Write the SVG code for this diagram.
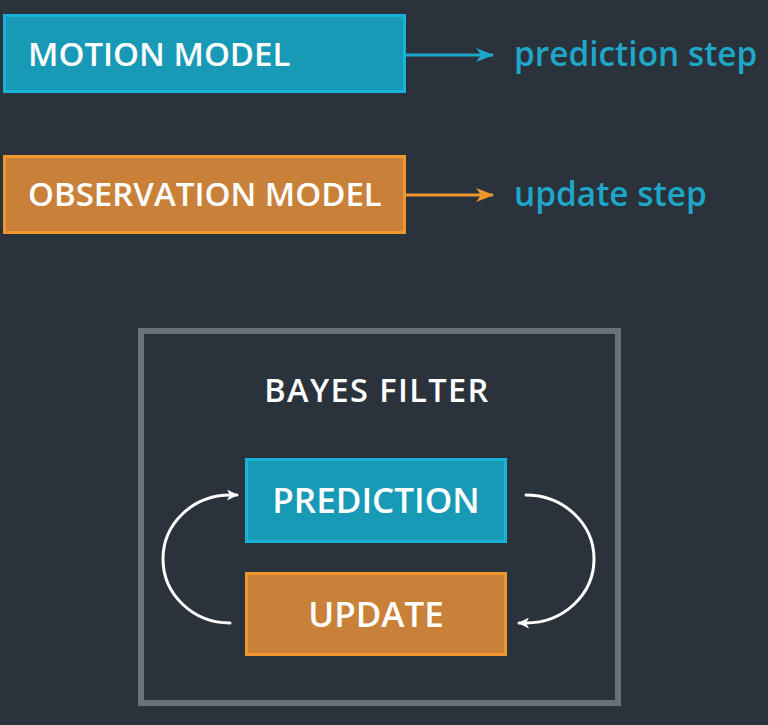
<svg xmlns="http://www.w3.org/2000/svg" width="768" height="725" viewBox="0 0 768 725">
<defs>
<style>
.lbl{font-family:"Open Sans","Liberation Sans",sans-serif;font-weight:600;fill:#ffffff}
.step{font-family:"Open Sans","Liberation Sans",sans-serif;font-weight:600;fill:#1ea7c8}
.blue{fill:#1899b6;stroke:#17b3d6;stroke-width:3}
.orange{fill:#c9813a;stroke:#f0962e;stroke-width:3}
.loop{fill:none;stroke:#ffffff;stroke-width:3;stroke-linecap:round}
</style>
<marker id="ahB" viewBox="0 0 18 14" refX="17" refY="7" markerWidth="18" markerHeight="14" markerUnits="userSpaceOnUse" orient="auto">
<path d="M0,0 L18,7 L0,14 L5,7 Z" fill="#1ea7c8"/>
</marker>
<marker id="ahO" viewBox="0 0 18 14" refX="17" refY="7" markerWidth="18" markerHeight="14" markerUnits="userSpaceOnUse" orient="auto">
<path d="M0,0 L18,7 L0,14 L5,7 Z" fill="#f0962e"/>
</marker>
<marker id="ahW" viewBox="0 0 11 11" refX="10" refY="5.5" markerWidth="11" markerHeight="11" markerUnits="userSpaceOnUse" orient="auto">
<path d="M0,0 L11,5.5 L0,11 L3,5.5 Z" fill="#ffffff"/>
</marker>
</defs>
<rect width="768" height="725" fill="#2a323b"/>
<g id="motion-model">
<rect class="blue" x="4.5" y="15.5" width="400" height="76"/>
<text class="lbl" x="28" y="66" font-size="33">MOTION MODEL</text>
</g>
<g id="prediction-step">
<text class="step" x="514" y="66" font-size="33.4">prediction step</text>
</g>
<g id="observation-model">
<rect class="orange" x="4.5" y="156.5" width="400" height="76"/>
<text class="lbl" x="28" y="206" font-size="33">OBSERVATION MODEL</text>
</g>
<g id="update-step">
<text class="step" x="514" y="206" font-size="33.4">update step</text>
</g>
<g id="bayes-filter">
<rect x="141" y="331" width="477" height="372" fill="none" stroke="#6a7279" stroke-width="6"/>
<text class="lbl" x="377" y="402" font-size="32.5" letter-spacing="1.4" text-anchor="middle">BAYES FILTER</text>
</g>
<g id="prediction">
<rect class="blue" x="246.5" y="459.5" width="259" height="82"/>
<text class="lbl" x="376" y="513" font-size="35" text-anchor="middle">PREDICTION</text>
</g>
<g id="update">
<rect class="orange" x="246.5" y="573.5" width="259" height="81"/>
<text class="lbl" x="376" y="627" font-size="35" text-anchor="middle">UPDATE</text>
</g>
<g id="connectors">
<line x1="406" y1="55" x2="493" y2="55" stroke="#1ea7c8" stroke-width="3" marker-end="url(#ahB)"/>
<line x1="406" y1="195" x2="493" y2="195" stroke="#f0962e" stroke-width="3" marker-end="url(#ahO)"/>
<path class="loop" d="M230,623 A67,64 0 0 1 230,495 L237,495" marker-end="url(#ahW)"/>
<path class="loop" d="M526,495 A68,64 0 0 1 526,623 L519,623" marker-end="url(#ahW)"/>
</g>
</svg>
